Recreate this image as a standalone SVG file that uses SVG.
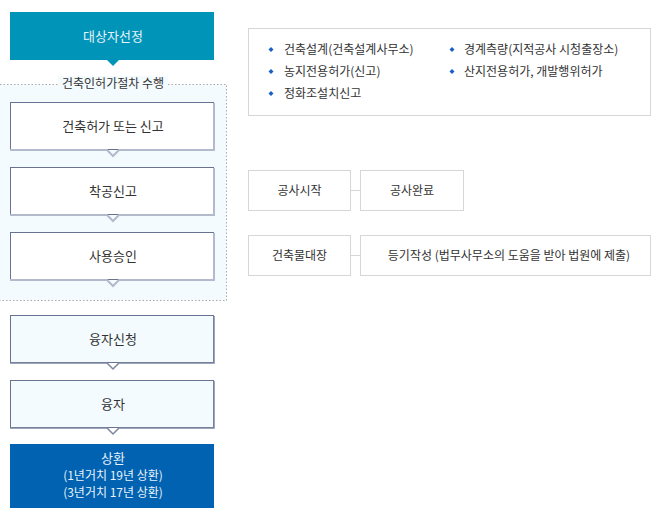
<svg xmlns="http://www.w3.org/2000/svg" width="667" height="525" viewBox="0 0 667 525">
<style>
text{font-family:"Noto Sans CJK KR","Noto Sans",sans-serif;}
.lbl{font-size:13px;fill:#333;text-anchor:middle;}
.wl{font-size:13px;fill:#e8f2fa;text-anchor:middle;}
.wl2{font-size:12px;fill:#e8f2fa;text-anchor:middle;}
.sm{font-size:12px;fill:#333;}
.smc{font-size:12px;fill:#333;text-anchor:middle;}
.box{fill:#fff;stroke:#69738f;stroke-width:1;}
.lbox{fill:#f4fbff;stroke:#69738f;stroke-width:1;}
.shd{fill:none;stroke:#b2bacb;stroke-width:2;}
.gbox{fill:#fff;stroke:#d6d6d6;stroke-width:1;}
.bul{fill:#1a5fc8;}
</style>
<rect width="667" height="525" fill="#fff"/>
<g id="region">
<path d="M0,84.5 H226.5 V300.5 H0" fill="#f4fbff" stroke="#a9a9a9" stroke-width="1" stroke-dasharray="1.5,2"/>
<rect x="58" y="76" width="110" height="16" fill="#f4fbff"/>
<text x="113" y="88" class="smc">건축인허가절차 수행</text>
</g>
<g id="n1">
<rect x="10" y="12" width="204" height="48" fill="#0095b8"/>
<path d="M107,60 L113,66 L119,60 Z" fill="#0095b8"/>
<text x="113" y="41" class="wl">대상자선정</text>
</g>
<g id="n2">
<rect x="10.5" y="102.5" width="203" height="47" class="box"/>
<path d="M214,103 V150 H119 L113,156 L107,150 H10" class="shd"/>
<text x="113" y="131" class="lbl">건축허가 또는 신고</text>
</g>
<g id="n3">
<rect x="10.5" y="167.5" width="203" height="47" class="box"/>
<path d="M214,168 V215 H119 L113,221 L107,215 H10" class="shd"/>
<text x="113" y="196" class="lbl">착공신고</text>
</g>
<g id="n4">
<rect x="10.5" y="232.5" width="203" height="47" class="box"/>
<path d="M214,233 V280 H119 L113,286 L107,280 H10" class="shd"/>
<text x="113" y="261" class="lbl">사용승인</text>
</g>
<g id="n5">
<rect x="10.5" y="315.5" width="203" height="47" class="lbox"/>
<path d="M214,316 V363 H119 L113,369 L107,363 H10" class="shd" style="stroke:#7c86a0;stroke-width:1.5"/>
<text x="113" y="344" class="lbl">융자신청</text>
</g>
<g id="n6">
<rect x="10.5" y="380.5" width="203" height="47" class="lbox"/>
<path d="M214,381 V428 H119 L113,434 L107,428 H10" class="shd" style="stroke:#7c86a0;stroke-width:1.5"/>
<text x="113" y="409" class="lbl">융자</text>
</g>
<g id="n7">
<rect x="10" y="444" width="204" height="64" fill="#0062b0"/>
<text x="113" y="463" class="wl">상환</text>
<text x="113" y="480" class="wl2">(1년거치 19년 상환)</text>
<text x="113" y="497" class="wl2">(3년거치 17년 상환)</text>
</g>
<g id="info">
<rect x="248.5" y="28.5" width="402" height="87" class="gbox"/>
<path d="M271,47 l2.5,2.5 l-2.5,2.5 l-2.5,-2.5 Z" class="bul"/>
<path d="M271,69 l2.5,2.5 l-2.5,2.5 l-2.5,-2.5 Z" class="bul"/>
<path d="M271,91 l2.5,2.5 l-2.5,2.5 l-2.5,-2.5 Z" class="bul"/>
<path d="M452,47 l2.5,2.5 l-2.5,2.5 l-2.5,-2.5 Z" class="bul"/>
<path d="M452,69 l2.5,2.5 l-2.5,2.5 l-2.5,-2.5 Z" class="bul"/>
<text x="284" y="54" class="sm">건축설계(건축설계사무소)</text>
<text x="284" y="76" class="sm">농지전용허가(신고)</text>
<text x="284" y="98" class="sm">정화조설치신고</text>
<text x="464" y="54" class="sm">경계측량(지적공사 시청출장소)</text>
<text x="464" y="76" class="sm">산지전용허가, 개발행위허가</text>
</g>
<g id="connectors">
<line x1="351" y1="190.5" x2="360" y2="190.5" stroke="#d6d6d6"/>
<line x1="351" y1="255.5" x2="360" y2="255.5" stroke="#d6d6d6"/>
</g>
<g id="r1">
<rect x="248.5" y="170.5" width="102" height="40" class="gbox"/>
<text x="299.5" y="195" class="smc">공사시작</text>
</g>
<g id="r2">
<rect x="360.5" y="170.5" width="103" height="40" class="gbox"/>
<text x="412" y="195" class="smc">공사완료</text>
</g>
<g id="r3">
<rect x="248.5" y="235.5" width="102" height="40" class="gbox"/>
<text x="299.5" y="260" class="smc">건축물대장</text>
</g>
<g id="r4">
<rect x="360.5" y="235.5" width="290" height="40" class="gbox"/>
<text x="509" y="260" class="smc">등기작성 (법무사무소의 도움을 받아 법원에 제출)</text>
</g>
</svg>
